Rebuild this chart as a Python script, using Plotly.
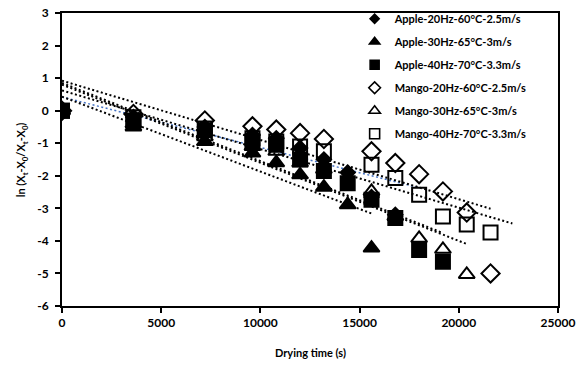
import plotly.graph_objects as go
import numpy as np

# ---- data ----
names = ["Apple-20Hz-60°C-2.5m/s", "Apple-30Hz-65°C-3m/s", "Apple-40Hz-70°C-3.3m/s",
         "Mango-20Hz-60°C-2.5m/s", "Mango-30Hz-65°C-3m/s", "Mango-40Hz-70°C-3.3m/s"]

x_apple20 = [0, 3600, 7200, 9600, 10800, 12000, 13200, 14400, 15600, 16800]
y_apple20 = [0, -0.2, -0.5, -0.75, -0.85, -1.15, -1.5, -1.9, -2.65, -3.2]

x_apple30 = [0, 3600, 7200, 9600, 10800, 12000, 13200, 14400, 15600]
y_apple30 = [0, -0.5, -0.95, -1.3, -1.6, -1.97, -2.35, -2.89, -4.22]

x_apple40 = [0, 3600, 7200, 9600, 10800, 12000, 13200, 14400, 15600, 16800, 18000, 19200]
y_apple40 = [0, -0.3, -0.6, -0.95, -1.05, -1.5, -1.85, -2.23, -2.74, -3.3, -4.28, -4.64]

x_mango20 = [0, 3600, 7200, 9600, 10800, 12000, 13200, 15600, 16800, 18000, 19200, 20400, 21600]
y_mango20 = [0, -0.1, -0.3, -0.48, -0.58, -0.69, -0.87, -1.25, -1.61, -1.95, -2.48, -3.13, -5.0]

x_mango30 = [0, 3600, 7200, 9600, 10800, 12000, 13200, 15600, 16800, 18000, 19200, 20400]
y_mango30 = [0, -0.4, -0.8, -1.1, -1.25, -1.6, -1.8, -2.48, -3.25, -3.92, -4.26, -5.03]

x_mango40 = [0, 3600, 7200, 9600, 10800, 12000, 13200, 15600, 16800, 18000, 19200, 20400, 21600]
y_mango40 = [0, -0.2, -0.55, -0.85, -0.95, -1.1, -1.25, -1.66, -2.07, -2.58, -3.25, -3.5, -3.74]

# linear trendlines: intercept, slope, end of line (s)
trend_intercept = [0.42, 0.43, 0.85, 0.92, 0.80, 0.62]
trend_slope = [-1.55e-4, -2.30e-4, -2.40e-4, -1.82e-4, -2.40e-4, -1.80e-4]
trend_xend = [18000, 15600, 19200, 21600, 20400, 22700]
trend_color = ["#4472C4", "black", "black", "black", "black", "black"]

x_ticks = [0, 5000, 10000, 15000, 20000, 25000]
y_ticks = [-6, -5, -4, -3, -2, -1, 0, 1, 2, 3]

x_title = "Drying time (s)"
y_title = "ln (X<sub>t</sub>-X<sub>0</sub>/X<sub>t</sub>-X<sub>0</sub>)"

xs = [x_apple20, x_apple30, x_apple40, x_mango20, x_mango30, x_mango40]
ys = [y_apple20, y_apple30, y_apple40, y_mango20, y_mango30, y_mango40]
symbols = ["diamond", "triangle-up", "square", "diamond-open", "triangle-up-open", "square-open"]
sizes = [11, 14, 14, 14, 14, 14]
legend_sizes = [7, 9, 9, 9, 10, 10]

FONT = "Lato"
fig = go.Figure()

# trendlines
for i in range(6):
    tx = np.linspace(0, trend_xend[i], 2)
    ty = trend_intercept[i] + trend_slope[i] * tx
    fig.add_trace(go.Scatter(x=tx, y=ty, mode="lines", showlegend=False, hoverinfo="skip",
                             line=dict(color=trend_color[i], width=2 if i else 1.5, dash="2px,2.5px")))

# markers
for i in range(6):
    fig.add_trace(go.Scatter(x=xs[i], y=ys[i], mode="markers", name=names[i],
                             showlegend=False,
                             marker=dict(symbol=symbols[i], size=sizes[i], color="black",
                                         line=dict(width=2, color="black"))))

# legend entries (smaller symbols, as in the reference legend)
for i in range(6):
    fig.add_trace(go.Scatter(x=[None], y=[None], mode="markers", name=names[i],
                             legendgroup=str(i),
                             marker=dict(symbol=symbols[i], size=legend_sizes[i], color="black",
                                         line=dict(width=1.6, color="black"))))

axis_common = dict(showline=True, linecolor="black", linewidth=2, mirror=True,
                   ticks="outside", ticklen=5, tickwidth=2, tickcolor="black",
                   showgrid=False, zeroline=False, automargin=False,
                   tickfont=dict(family=FONT, size=12, color="black", weight="bold"))

fig.update_xaxes(range=[0, 25000], tickvals=x_ticks, ticktext=[str(v) for v in x_ticks],
                 **axis_common)
fig.update_yaxes(range=[-6, 3], tickvals=y_ticks, ticktext=[str(v) for v in y_ticks],
                 ticklabelstandoff=4, **axis_common)

fig.add_annotation(text="<b>" + x_title + "</b>", xref="paper", yref="paper",
                   x=0.5, y=-0.16, xanchor="center", yanchor="middle", showarrow=False,
                   font=dict(family=FONT, size=11, color="black"))
fig.add_annotation(text="<b>" + y_title + "</b>", xref="paper", yref="paper",
                   x=-0.081, y=0.5, xanchor="center", yanchor="middle", showarrow=False,
                   textangle=-90, font=dict(family=FONT, size=11, color="black"))

fig.update_layout(
    width=585, height=366,
    margin=dict(l=62, r=27, t=13, b=60, autoexpand=False),
    paper_bgcolor="white", plot_bgcolor="white",
    legend=dict(x=0.59, y=1.03, xanchor="left", yanchor="top", bgcolor="rgba(0,0,0,0)",
                font=dict(family=FONT, size=11, color="black", weight="bold"),
                traceorder="grouped", tracegroupgap=4, itemsizing="trace"),
    font=dict(family=FONT, color="black"),
)

fig.write_html("out.html")
